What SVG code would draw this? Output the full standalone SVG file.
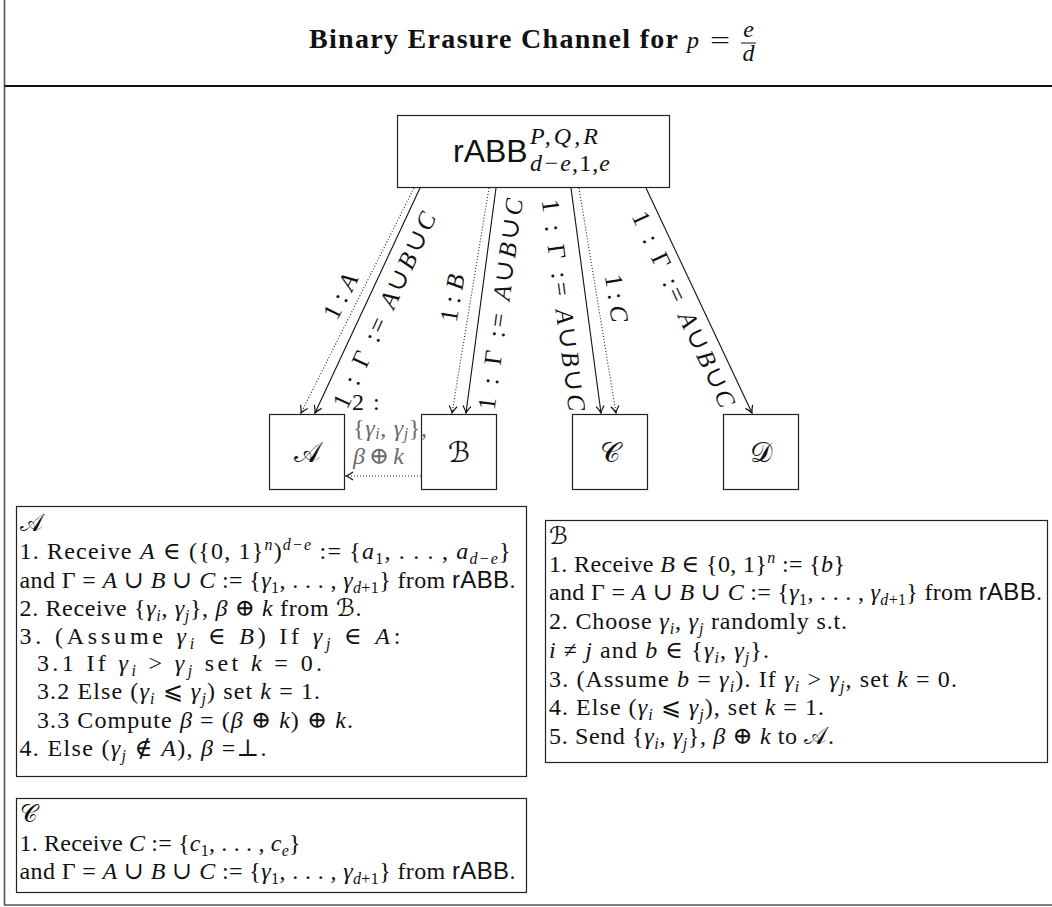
<svg xmlns="http://www.w3.org/2000/svg" width="1052" height="907" viewBox="0 0 1052 907">
<defs>
<style>
.t{font-family:"Liberation Serif","DejaVu Serif",serif;font-size:24px;fill:#111}
.i{font-style:italic}
.sf{font-family:"Liberation Sans","DejaVu Sans",sans-serif;font-style:normal}
.sp{font-size:16px}
.cal{font-family:"DejaVu Serif","DejaVu Sans","Noto Sans",serif;font-style:normal}
.box{fill:#fff;stroke:#222;stroke-width:1.2}
.ln{fill:none;stroke:#111;stroke-width:1.1}
.dot{fill:none;stroke:#222;stroke-width:1.1;stroke-dasharray:1 2}
.lab{font-family:"Liberation Serif","DejaVu Serif",serif;font-size:25px;fill:#111}
.gray{fill:#6b6b6b}
.title{font-family:"Liberation Serif","DejaVu Serif",serif;font-size:28px;font-weight:bold;fill:#111}
</style>
<marker id="ah" viewBox="-10 -6 12 12" refX="0" refY="0" markerWidth="12" markerHeight="12" orient="auto" markerUnits="userSpaceOnUse">
<path d="M-7,-4 Q-3,-1 0,0 Q-3,1 -7,4" fill="none" stroke="#111" stroke-width="1.2"/>
</marker>
</defs>
<rect x="0" y="0" width="1052" height="907" fill="#fff"/>
<g id="frame">
<path d="M4.5,-2 V905 H1054" fill="none" stroke="#555" stroke-width="1.6"/>
<line x1="4.5" y1="86" x2="1054" y2="86" stroke="#111" stroke-width="2"/>
</g>
<g id="title">
<text class="title" x="309" y="48" textLength="369" lengthAdjust="spacing">Binary Erasure Channel for</text>
<text class="t i" x="687" y="48" font-size="27">p</text>
<text class="t" x="710" y="48" font-size="27" textLength="20" lengthAdjust="spacingAndGlyphs">=</text>
<text class="t i" x="748.5" y="37" font-size="17" text-anchor="middle">e</text>
<line x1="741" y1="43" x2="756" y2="43" stroke="#111" stroke-width="1"/>
<text class="t i" x="748.5" y="61" font-size="17" text-anchor="middle">d</text>
</g>
<g id="rabb">
<rect class="box" x="397.5" y="115.5" width="272" height="72"/>
<text class="sf" x="453" y="162" font-size="32" fill="#111">rABB</text>
<text class="t i" x="530" y="144" font-size="22" textLength="68" lengthAdjust="spacing">P,Q,R</text>
<text class="t i" x="530" y="171" font-size="22" textLength="80" lengthAdjust="spacing">d−e,<tspan font-style="normal">1</tspan>,e</text>
</g>
<g id="nodeA"><rect class="box" x="269.5" y="414.5" width="75" height="75"/><text class="cal" x="307" y="462" font-size="28" text-anchor="middle" fill="#111">𝒜</text></g>
<g id="nodeB"><rect class="box" x="421.5" y="414.5" width="75" height="75"/><text class="cal" x="459" y="462" font-size="28" text-anchor="middle" fill="#111">ℬ</text></g>
<g id="nodeC"><rect class="box" x="572.5" y="414.5" width="75" height="75"/><text class="cal" x="610" y="462" font-size="28" text-anchor="middle" fill="#111">𝒞</text></g>
<g id="nodeD"><rect class="box" x="723.5" y="414.5" width="75" height="75"/><text class="cal" x="761" y="462" font-size="28" text-anchor="middle" fill="#111">𝒟</text></g>
<g id="connectors">
<path class="dot" d="M414,188 L301,413" marker-end="url(#ah)"/>
<path class="ln" d="M420,188 L315,413" marker-end="url(#ah)"/>
<path class="dot" d="M489,188 L452,413" marker-end="url(#ah)"/>
<path class="ln" d="M496,188 L466,413" marker-end="url(#ah)"/>
<path class="ln" d="M571,188 L601,413" marker-end="url(#ah)"/>
<path class="dot" d="M579,188 L616,413" marker-end="url(#ah)"/>
<path class="ln" d="M646,188 L752,413" marker-end="url(#ah)"/>
<path class="dot" d="M421,476 L346,476" marker-end="url(#ah)"/>
<text class="lab" transform="translate(340,296) rotate(-63.5)" text-anchor="middle" dominant-baseline="central" textLength="48" lengthAdjust="spacing">1 : <tspan class="i">A</tspan></text>
<text class="lab" transform="translate(384,310) rotate(-65.2)" text-anchor="middle" dominant-baseline="central" textLength="213" lengthAdjust="spacing">1 : Γ := <tspan class="i">A</tspan>∪<tspan class="i">B</tspan>∪<tspan class="i">C</tspan></text>
<text class="lab" transform="translate(452,298) rotate(-80.7)" text-anchor="middle" dominant-baseline="central" textLength="48" lengthAdjust="spacing">1 : <tspan class="i">B</tspan></text>
<text class="lab" transform="translate(500,304) rotate(-82.5)" text-anchor="middle" dominant-baseline="central" textLength="213" lengthAdjust="spacing">1 : Γ := <tspan class="i">A</tspan>∪<tspan class="i">B</tspan>∪<tspan class="i">C</tspan></text>
<text class="lab" transform="translate(564,305) rotate(82.5)" text-anchor="middle" dominant-baseline="central" textLength="213" lengthAdjust="spacing">1 : Γ := <tspan class="i">A</tspan>∪<tspan class="i">B</tspan>∪<tspan class="i">C</tspan></text>
<text class="lab" transform="translate(617,298) rotate(80.7)" text-anchor="middle" dominant-baseline="central" textLength="48" lengthAdjust="spacing">1 : <tspan class="i">C</tspan></text>
<text class="lab" transform="translate(684,309) rotate(65)" text-anchor="middle" dominant-baseline="central" textLength="213" lengthAdjust="spacing">1 : Γ := <tspan class="i">A</tspan>∪<tspan class="i">B</tspan>∪<tspan class="i">C</tspan></text>
<text class="t" x="352" y="410" font-size="22">2</text>
<text class="t" x="373" y="410" font-size="22">:</text>
<text class="t gray" x="353" y="436" font-size="20" textLength="74" lengthAdjust="spacing">{<tspan class="i">γ</tspan><tspan class="sp i" font-size="14" dy="3">i</tspan><tspan dy="-3">, </tspan><tspan class="i">γ</tspan><tspan class="sp i" font-size="14" dy="3">j</tspan><tspan dy="-3">},</tspan></text>
<text class="t gray" x="353" y="464" font-size="20" textLength="51" lengthAdjust="spacing"><tspan class="i">β</tspan> ⊕ <tspan class="i">k</tspan></text>
</g>
<g id="boxA">
<rect class="box" x="16.5" y="506.5" width="510" height="270"/>
<text class="t cal" x="19.5" y="531">𝒜</text>
<text class="t" x="19.5" y="559" textLength="491" lengthAdjust="spacing">1. Receive <tspan class="i">A</tspan> ∈ ({0, 1}<tspan class="sp i" dy="-9">n</tspan><tspan dy="9">)</tspan><tspan class="sp i" dy="-9">d−e</tspan><tspan dy="9"> := {</tspan><tspan class="i">a</tspan><tspan class="sp" dy="5">1</tspan><tspan dy="-5">, . . . , </tspan><tspan class="i">a</tspan><tspan class="sp i" dy="5">d−e</tspan><tspan dy="-5">}</tspan></text>
<text class="t" x="19.5" y="588" textLength="496" lengthAdjust="spacing">and Γ = <tspan class="i">A</tspan> ∪ <tspan class="i">B</tspan> ∪ <tspan class="i">C</tspan> := {<tspan class="i">γ</tspan><tspan class="sp" dy="5">1</tspan><tspan dy="-5">, . . . , </tspan><tspan class="i">γ</tspan><tspan class="sp" dy="5"><tspan class="i">d</tspan>+1</tspan><tspan dy="-5">} from </tspan><tspan class="sf">rABB</tspan>.</text>
<text class="t" x="19.5" y="616" textLength="342" lengthAdjust="spacing">2. Receive {<tspan class="i">γ</tspan><tspan class="sp i" dy="5">i</tspan><tspan dy="-5">, </tspan><tspan class="i">γ</tspan><tspan class="sp i" dy="5">j</tspan><tspan dy="-5">}, </tspan><tspan class="i">β</tspan> ⊕ <tspan class="i">k</tspan> from <tspan class="cal">ℬ</tspan>.</text>
<text class="t" x="19.5" y="644" textLength="381" lengthAdjust="spacing">3. (Assume <tspan class="i">γ</tspan><tspan class="sp i" dy="5">i</tspan><tspan dy="-5"> ∈ </tspan><tspan class="i">B</tspan>) If <tspan class="i">γ</tspan><tspan class="sp i" dy="5">j</tspan><tspan dy="-5"> ∈ </tspan><tspan class="i">A</tspan>:</text>
<text class="t" x="37" y="671" textLength="285" lengthAdjust="spacing">3.1 If <tspan class="i">γ</tspan><tspan class="sp i" dy="5">i</tspan><tspan dy="-5"> &gt; </tspan><tspan class="i">γ</tspan><tspan class="sp i" dy="5">j</tspan><tspan dy="-5"> set </tspan><tspan class="i">k</tspan> = 0.</text>
<text class="t" x="37" y="699" textLength="283" lengthAdjust="spacing">3.2 Else (<tspan class="i">γ</tspan><tspan class="sp i" dy="5">i</tspan><tspan dy="-5"> ⩽ </tspan><tspan class="i">γ</tspan><tspan class="sp i" dy="5">j</tspan><tspan dy="-5">) set </tspan><tspan class="i">k</tspan> = 1.</text>
<text class="t" x="37" y="728" textLength="316" lengthAdjust="spacing">3.3 Compute <tspan class="i">β</tspan> = (<tspan class="i">β</tspan> ⊕ <tspan class="i">k</tspan>) ⊕ <tspan class="i">k</tspan>.</text>
<text class="t" x="19.5" y="756" textLength="247" lengthAdjust="spacing">4. Else (<tspan class="i">γ</tspan><tspan class="sp i" dy="5">j</tspan><tspan dy="-5"> ∉ </tspan><tspan class="i">A</tspan>), <tspan class="i">β</tspan> =⊥.</text>
</g>
<g id="boxC">
<rect class="box" x="16.5" y="798.5" width="510" height="94"/>
<text class="t cal" x="19.5" y="822">𝒞</text>
<text class="t" x="19.5" y="851" textLength="281" lengthAdjust="spacing">1. Receive <tspan class="i">C</tspan> := {<tspan class="i">c</tspan><tspan class="sp" dy="5">1</tspan><tspan dy="-5">, . . . , </tspan><tspan class="i">c</tspan><tspan class="sp i" dy="5">e</tspan><tspan dy="-5">}</tspan></text>
<text class="t" x="19.5" y="879" textLength="496" lengthAdjust="spacing">and Γ = <tspan class="i">A</tspan> ∪ <tspan class="i">B</tspan> ∪ <tspan class="i">C</tspan> := {<tspan class="i">γ</tspan><tspan class="sp" dy="5">1</tspan><tspan dy="-5">, . . . , </tspan><tspan class="i">γ</tspan><tspan class="sp" dy="5"><tspan class="i">d</tspan>+1</tspan><tspan dy="-5">} from </tspan><tspan class="sf">rABB</tspan>.</text>
</g>
<g id="boxB">
<rect class="box" x="545.5" y="520.5" width="502" height="242"/>
<text class="t cal" x="549" y="544">ℬ</text>
<text class="t" x="549" y="572" textLength="296" lengthAdjust="spacing">1. Receive <tspan class="i">B</tspan> ∈ {0, 1}<tspan class="sp i" dy="-9">n</tspan><tspan dy="9"> := {</tspan><tspan class="i">b</tspan>}</text>
<text class="t" x="549" y="600" textLength="493" lengthAdjust="spacing">and Γ = <tspan class="i">A</tspan> ∪ <tspan class="i">B</tspan> ∪ <tspan class="i">C</tspan> := {<tspan class="i">γ</tspan><tspan class="sp" dy="5">1</tspan><tspan dy="-5">, . . . , </tspan><tspan class="i">γ</tspan><tspan class="sp" dy="5"><tspan class="i">d</tspan>+1</tspan><tspan dy="-5">} from </tspan><tspan class="sf">rABB</tspan>.</text>
<text class="t" x="549" y="629" textLength="298" lengthAdjust="spacing">2. Choose <tspan class="i">γ</tspan><tspan class="sp i" dy="5">i</tspan><tspan dy="-5">, </tspan><tspan class="i">γ</tspan><tspan class="sp i" dy="5">j</tspan><tspan dy="-5"> randomly s.t.</tspan></text>
<text class="t" x="549" y="658" textLength="220" lengthAdjust="spacing"><tspan class="i">i</tspan> ≠ <tspan class="i">j</tspan> and <tspan class="i">b</tspan> ∈ {<tspan class="i">γ</tspan><tspan class="sp i" dy="5">i</tspan><tspan dy="-5">, </tspan><tspan class="i">γ</tspan><tspan class="sp i" dy="5">j</tspan><tspan dy="-5">}.</tspan></text>
<text class="t" x="549" y="687" textLength="408" lengthAdjust="spacing">3. (Assume <tspan class="i">b</tspan> = <tspan class="i">γ</tspan><tspan class="sp i" dy="5">i</tspan><tspan dy="-5">). If </tspan><tspan class="i">γ</tspan><tspan class="sp i" dy="5">i</tspan><tspan dy="-5"> &gt; </tspan><tspan class="i">γ</tspan><tspan class="sp i" dy="5">j</tspan><tspan dy="-5">, set </tspan><tspan class="i">k</tspan> = 0.</text>
<text class="t" x="549" y="715" textLength="275" lengthAdjust="spacing">4. Else (<tspan class="i">γ</tspan><tspan class="sp i" dy="5">i</tspan><tspan dy="-5"> ⩽ </tspan><tspan class="i">γ</tspan><tspan class="sp i" dy="5">j</tspan><tspan dy="-5">), set </tspan><tspan class="i">k</tspan> = 1.</text>
<text class="t" x="549" y="744" textLength="285" lengthAdjust="spacing">5. Send {<tspan class="i">γ</tspan><tspan class="sp i" dy="5">i</tspan><tspan dy="-5">, </tspan><tspan class="i">γ</tspan><tspan class="sp i" dy="5">j</tspan><tspan dy="-5">}, </tspan><tspan class="i">β</tspan> ⊕ <tspan class="i">k</tspan> to <tspan class="cal">𝒜</tspan>.</text>
</g>
</svg>
